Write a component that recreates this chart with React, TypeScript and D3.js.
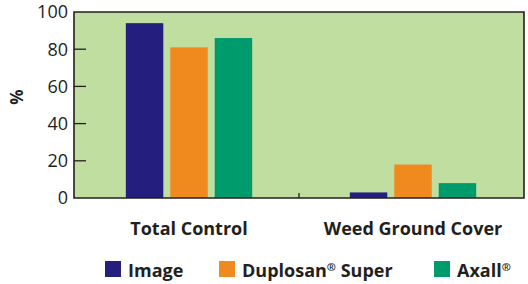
import React from 'react';
import * as d3 from 'd3';

const categories = ['Total Control', 'Weed Ground Cover'];
const seriesNames = ['Image', 'Duplosan® Super', 'Axall®'];
const imageValues = [94, 3];
const duplosanValues = [81, 18];
const axallValues = [86, 8];
const yTicks = [0, 20, 40, 60, 80, 100];

const COLORS = ['#241f7e', '#f18a1e', '#009b6c'];
const BG = '#c0dea0';
const INK = '#231f20';
const FONT = "'Open Sans', 'DejaVu Sans', sans-serif";

const W = 528;
const H = 284;
const plot = { left: 74, top: 12, right: 524, bottom: 198 };

// splits "®" into superscript pieces
function withReg(label: string) {
  const parts = label.split('®');
  const out: React.ReactNode[] = [];
  parts.forEach((p, i) => {
    if (i > 0) {
      out.push(<tspan key={'r' + i} fontSize={11} dy={-6}>®</tspan>);
      out.push(<tspan key={'p' + i} dy={6}>{p}</tspan>);
    } else {
      out.push(<tspan key={'p' + i}>{p}</tspan>);
    }
  });
  return out;
}

export default function App() {
  const seriesValues = [imageValues, duplosanValues, axallValues];

  const x0 = d3.scaleBand<string>()
    .domain(categories)
    .range([plot.left + 3, plot.right + 1])
    .paddingInner(0.436)
    .paddingOuter(0.218);

  const x1 = d3.scaleBand<string>()
    .domain(seriesNames)
    .range([0, x0.bandwidth()])
    .paddingInner(0.157);

  const y = d3.scaleLinear().domain([0, 100]).range([plot.bottom, plot.top]);

  // legend square left x
  const legendX = [105, 219, 434];

  return (
    <div style={{ position: 'fixed', left: 0, top: 0 }}>
      <svg width={W} height={H} style={{ display: 'block', fontFamily: FONT }}>
        <rect x={0} y={0} width={W} height={H} fill="#fff" />
        <rect
          x={plot.left}
          y={plot.top}
          width={plot.right - plot.left}
          height={plot.bottom - plot.top}
          fill={BG}
        />

        {categories.map((cat, ci) => (
          <g key={cat} transform={`translate(${x0(cat)},0)`}>
            {seriesNames.map((s, si) => {
              const v = seriesValues[si][ci];
              return (
                <rect
                  key={s}
                  x={x1(s)}
                  y={y(v)}
                  width={x1.bandwidth()}
                  height={y(0) - y(v)}
                  fill={COLORS[si]}
                />
              );
            })}
          </g>
        ))}

        {yTicks.map(t => (
          <g key={t}>
            {t > 0 && t < 100 && (
              <line x1={plot.left} x2={plot.left + 12} y1={y(t)} y2={y(t)} stroke={INK} strokeWidth={1.3} />
            )}
            <text
              x={68}
              y={y(t)}
              dy="0.36em"
              textAnchor="end"
              fontSize={18}
              fill={INK}
            >
              {t}
            </text>
          </g>
        ))}

        <line
          x1={(plot.left + plot.right) / 2}
          x2={(plot.left + plot.right) / 2}
          y1={plot.bottom}
          y2={plot.bottom - 5}
          stroke={INK}
          strokeWidth={1.3}
        />

        <path
          d={`M${plot.left},${plot.top}H${plot.right}V${plot.bottom}H${plot.left}Z`}
          fill="none"
          stroke={INK}
          strokeWidth={1.6}
        />

        <text
          transform={`translate(23,97) rotate(-90)`}
          textAnchor="middle"
          fontSize={17}
          fontWeight={700}
          fill={INK}
        >
          %
        </text>

        {categories.map(cat => (
          <text
            key={cat}
            x={(x0(cat) ?? 0) + x0.bandwidth() / 2}
            y={235}
            textAnchor="middle"
            fontSize={18}
            fontWeight={700}
            fill={INK}
          >
            {cat}
          </text>
        ))}

        {seriesNames.map((s, si) => (
          <g key={s}>
            <rect x={legendX[si]} y={261} width={16} height={16} fill={COLORS[si]} />
            <text x={legendX[si] + 23} y={277} fontSize={18} fontWeight={700} fill={INK}>
              {withReg(s)}
            </text>
          </g>
        ))}
      </svg>
    </div>
  );
}
